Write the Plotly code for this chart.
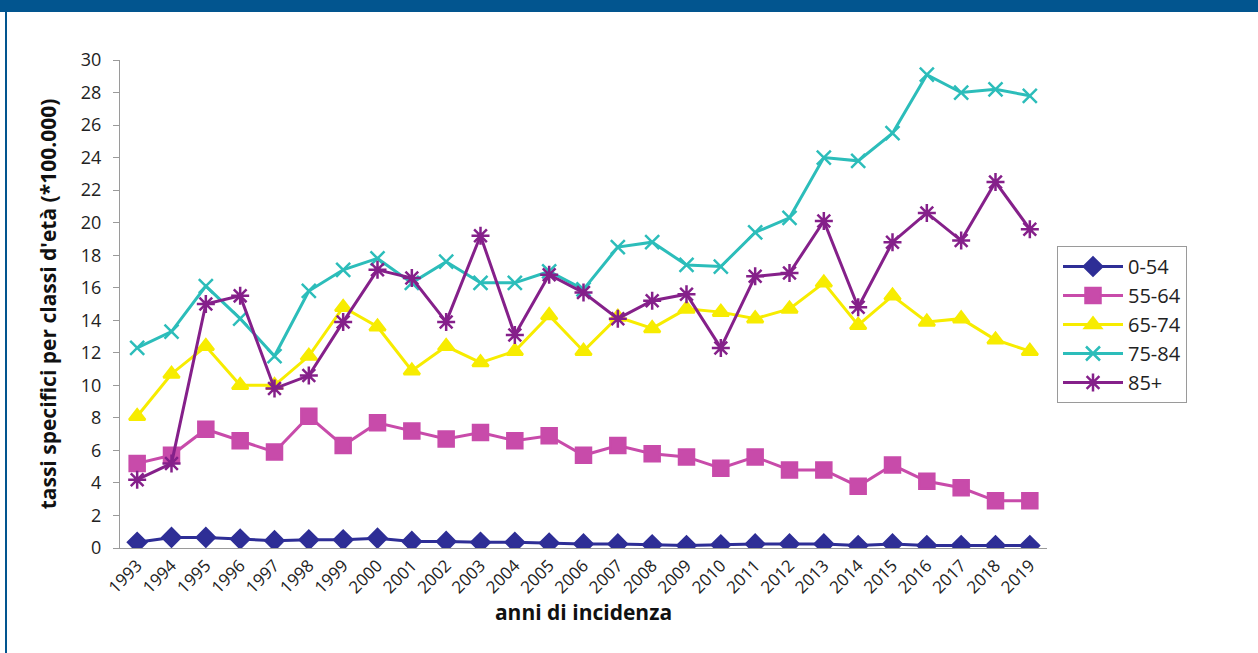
import plotly.graph_objects as go

years = [str(y) for y in range(1993, 2020)]
series_names = ["0-54", "55-64", "65-74", "75-84", "85+"]

v_0_54 = [0.35, 0.65, 0.65, 0.55, 0.45, 0.5, 0.5, 0.6, 0.4, 0.4, 0.35, 0.35, 0.3, 0.25,
          0.25, 0.2, 0.15, 0.2, 0.25, 0.25, 0.25, 0.15, 0.25, 0.15, 0.15, 0.15, 0.15]
v_55_64 = [5.2, 5.7, 7.3, 6.6, 5.9, 8.1, 6.3, 7.7, 7.2, 6.7, 7.1, 6.6, 6.9, 5.7,
           6.3, 5.8, 5.6, 4.9, 5.6, 4.8, 4.8, 3.8, 5.1, 4.1, 3.7, 2.9, 2.9]
v_65_74 = [8.1, 10.7, 12.4, 10.0, 10.0, 11.8, 14.8, 13.6, 10.9, 12.4, 11.4, 12.1, 14.3, 12.1,
           14.2, 13.5, 14.7, 14.5, 14.1, 14.7, 16.3, 13.7, 15.5, 13.9, 14.1, 12.8, 12.1]
v_75_84 = [12.3, 13.3, 16.1, 14.1, 11.8, 15.8, 17.1, 17.8, 16.3, 17.6, 16.3, 16.3, 17.0, 15.9,
           18.5, 18.8, 17.4, 17.3, 19.4, 20.3, 24.0, 23.8, 25.5, 29.1, 28.0, 28.2, 27.8]
v_85 = [4.2, 5.2, 15.0, 15.5, 9.8, 10.6, 13.9, 17.1, 16.6, 13.9, 19.2, 13.1, 16.8, 15.7,
        14.1, 15.2, 15.6, 12.3, 16.7, 16.9, 20.1, 14.8, 18.8, 20.6, 18.9, 22.5, 19.6]

y_ticks = list(range(0, 31, 2))

series_values = [v_0_54, v_55_64, v_65_74, v_75_84, v_85]
colors = ["#2E2E96", "#C84BAA", "#F7EC00", "#2CBDBA", "#85208A"]
symbols = ["diamond", "square", "triangle-up", "x-thin-open", "asterisk-open"]
sizes = [14, 15, 14, 14, 15]

fig = go.Figure()
for name, vals, col, sym, sz in zip(series_names, series_values, colors, symbols, sizes):
    fig.add_trace(go.Scatter(
        x=years, y=vals, name=name, mode="lines+markers",
        line=dict(color=col, width=3),
        marker=dict(symbol=sym, size=sz, color=col,
                    line=dict(color=col, width=2.5)),
    ))

L, R, T, B = 120, 211, 60, 105
W, H = 1258, 653
pw, ph = W - L - R, H - T - B

def px(x):
    return (x - L) / pw

def py(y):
    return (H - B - y) / ph

fig.update_layout(
    width=W, height=H,
    margin=dict(l=L, r=R, t=T, b=B),
    plot_bgcolor="white", paper_bgcolor="white",
    font=dict(family="Open Sans", color="#222222"),
    showlegend=True,
    legend=dict(
        x=px(1057), y=py(246), xanchor="left", yanchor="top",
        bordercolor="#9a9a9a", borderwidth=1,
        font=dict(size=20, color="#222222", family="Open Sans"),
        tracegroupgap=0, itemwidth=60,
    ),
    xaxis=dict(
        type="category", showgrid=False, showline=True, linecolor="#9a9a9a",
        linewidth=1, tickangle=-45, ticks="",
        tickfont=dict(size=17, color="#222222"),
        title=dict(text="<b>anni di incidenza</b>", font=dict(size=21, color="#111111"),
                   standoff=6),
        range=[-0.5, 26.5],
    ),
    yaxis=dict(
        range=[0, 30], tickvals=y_ticks, showgrid=False, showline=True,
        linecolor="#9a9a9a", linewidth=1, ticks="outside", ticklen=6, tickcolor="#9a9a9a",
        tickfont=dict(size=18, color="#222222"), zeroline=False, ticklabelstandoff=8,
        title=dict(text="<b>tassi specifici per classi d'età (*100.000)</b>",
                   font=dict(size=21, color="#111111"), standoff=18),
    ),
    shapes=[
        dict(type="rect", xref="paper", yref="paper", x0=px(0), x1=px(W), y0=py(12), y1=py(0),
             fillcolor="#02558F", line=dict(width=0), layer="above"),
        dict(type="rect", xref="paper", yref="paper", x0=px(5), x1=px(7), y0=py(H), y1=py(12),
             fillcolor="#02558F", line=dict(width=0), layer="above"),
    ],
)

fig.write_html("out.html", config={"displayModeBar": False},
               post_script="document.body.style.margin='0';document.body.style.overflow='hidden';")
